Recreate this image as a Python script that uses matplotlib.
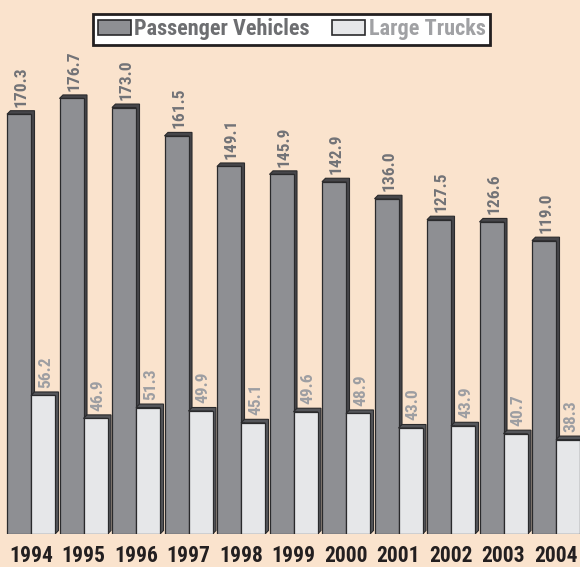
import matplotlib
matplotlib.use("Agg")
import matplotlib.pyplot as plt
from matplotlib.patches import Patch, Polygon
import numpy as np

years = ["1994", "1995", "1996", "1997", "1998", "1999", "2000", "2001", "2002", "2003", "2004"]
passenger = [170.3, 176.7, 173.0, 161.5, 149.1, 145.9, 142.9, 136.0, 127.5, 126.6, 119.0]
trucks = [56.2, 46.9, 51.3, 49.9, 45.1, 49.6, 48.9, 43.0, 43.9, 40.7, 38.3]
series_names = ["Passenger Vehicles", "Large Trucks"]

BG = "#FAE3CD"
FONT = ["Roboto Condensed", "Barlow Condensed", "DejaVu Sans"]
plt.rcParams["font.family"] = FONT

W, H, DPI = 580, 567, 100
fig = plt.figure(figsize=(W / DPI, H / DPI), dpi=DPI, facecolor=BG)
ax_bottom_px = 534
ax = fig.add_axes([0, (H - ax_bottom_px) / H, 1, ax_bottom_px / H])
ax.set_facecolor(BG)

px_per_unit = 2.465
group_px = 52.5
ax.set_ylim(0, ax_bottom_px / px_per_unit)
ax.set_xlim(-31 / group_px, (W - 31) / group_px)

bw = 24 / group_px
dx = 3.5 / group_px
dy = 3.5 / px_per_unit

x = np.arange(len(years))

def draw(xs_left, vals, front, side, lab_color, z):
    for xl, v in zip(xs_left, vals):
        xr = xl + bw
        poly = Polygon([(xl, v), (xl + dx, v + dy), (xr + dx, v + dy), (xr + dx, dy), (xr, 0), (xr, v)],
                       closed=True, facecolor=side, edgecolor="#2a2a2c", linewidth=0.8, zorder=z)
        ax.add_patch(poly)
        ax.annotate(f"{v:.1f}", (xl + bw / 2 + dx / 2, v + dy), xytext=(0.5, 3), textcoords="offset points",
                    rotation=90, ha="center", va="bottom", fontsize=12.5, fontweight="heavy",
                    color=lab_color, zorder=z + 2)
    ax.bar(xs_left, vals, width=bw, align="edge", color=front, edgecolor="#2a2a2c",
           linewidth=0.9, zorder=z + 1)

draw(x - bw, passenger, "#8e8f93", "#46464a", "#727377", 2)
draw(x, trucks, "#e6e7e9", "#55565a", "#9d9ea2", 5)

ax.set_xticks(x)
ax.set_xticklabels(years, fontsize=15.5, fontweight="heavy", color="#231f20")
ax.tick_params(axis="x", length=0, pad=8)
ax.set_yticks([])
for s in ax.spines.values():
    s.set_visible(False)

handles = [Patch(facecolor="#8e8f93", edgecolor="#2a2a2c", linewidth=1.2),
           Patch(facecolor="#e6e7e9", edgecolor="#2a2a2c", linewidth=1.2)]
leg = fig.legend(handles, series_names, loc="center", bbox_to_anchor=(0.503, 0.948), ncol=2,
                 frameon=True, fancybox=False, edgecolor="#231f20", facecolor="white",
                 prop={"family": FONT, "weight": "heavy", "size": 16},
                 handlelength=1.5, handleheight=0.7, handletextpad=0.15, columnspacing=1.0,
                 borderpad=0.2, framealpha=1)
leg.get_frame().set_linewidth(2)
leg.get_texts()[0].set_color("#6d6e71")
leg.get_texts()[1].set_color("#a0a1a4")

fig.savefig("out.png", dpi=DPI, facecolor=BG)
